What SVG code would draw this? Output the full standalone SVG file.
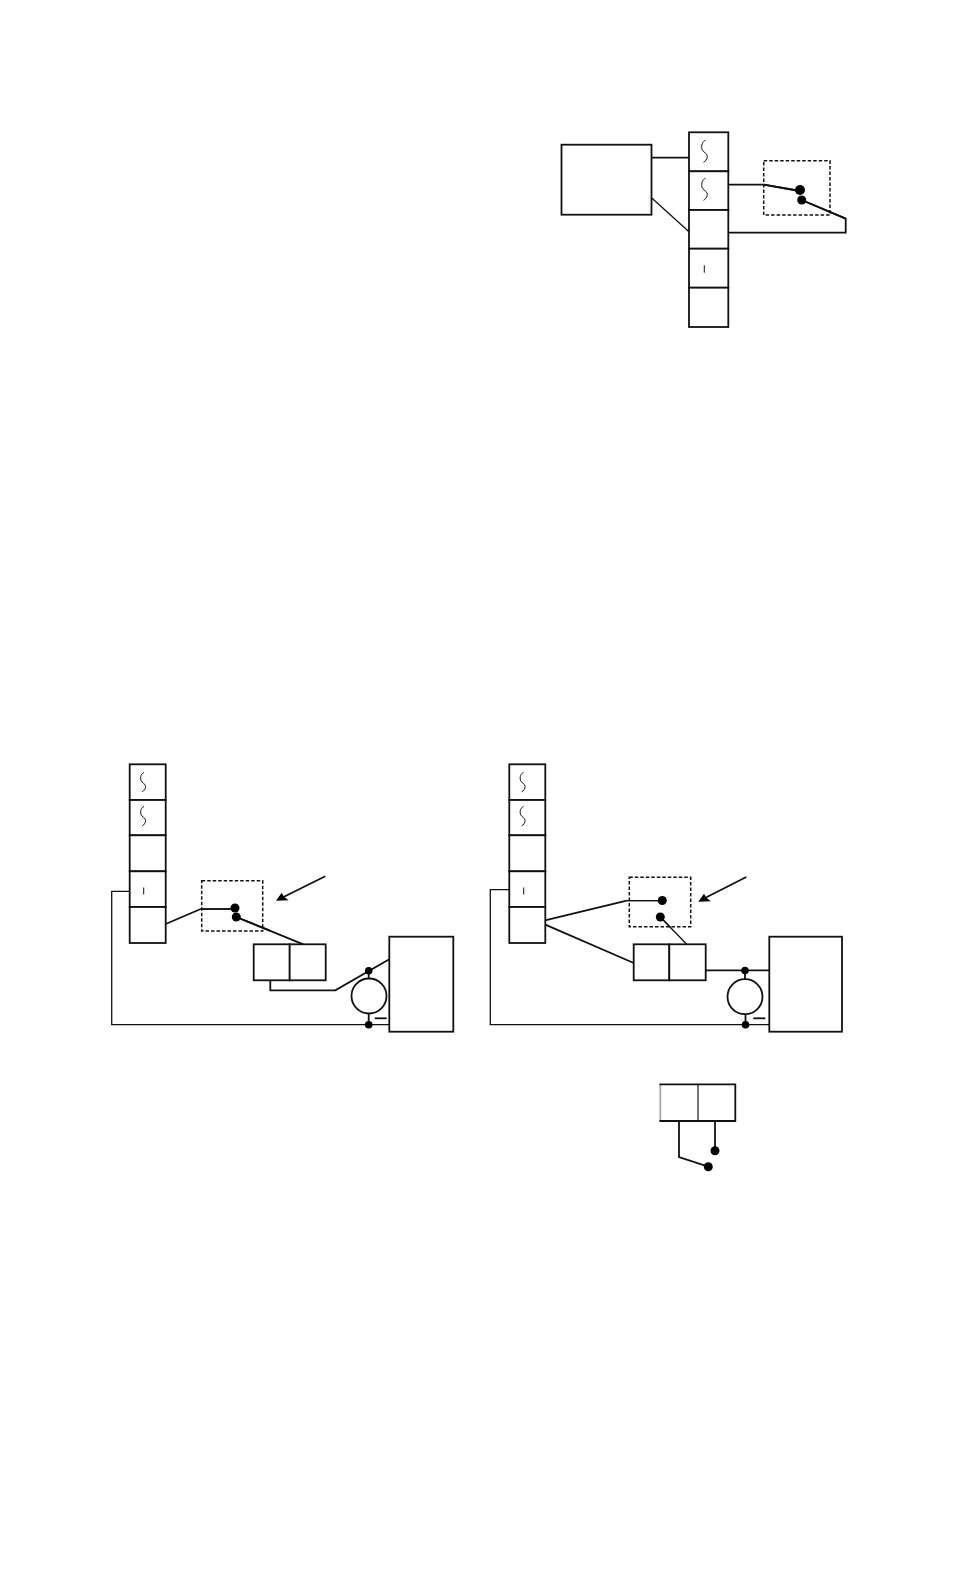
<svg xmlns="http://www.w3.org/2000/svg" width="954" height="1572" viewBox="0 0 954 1572">
<style>
.b{fill:#fff;stroke:#111;stroke-width:1.8}
.c{fill:none;stroke:#111;stroke-width:1.8;stroke-linejoin:miter}
.n{fill:none;stroke:#111;stroke-width:1.3}
.t{fill:none;stroke:#111;stroke-width:1}
.d{fill:none;stroke:#111;stroke-width:1.5;stroke-dasharray:3.5 2}
.p{fill:#000}
</style>
<defs>
<path id="sq" class="t" d="M0 0C-3 1-4.5 5-3.5 9C-2.5 12 2 13 1.8 16C1.6 19 0 21-2 22"/>
<path id="sm" class="t" d="M0 0C-2.6 .9-4 4.4-3 7.9C-2.2 10.5 1.8 11.4 1.6 14C1.4 16.7 0 18.5-1.8 19.3"/>
</defs>
<rect width="954" height="1572" fill="#fff"/>

<g id="connectors">
<path class="c" d="M651.5 157.7H689"/>
<path class="n" d="M651.5 197.7L689 231.7"/>
<path class="c" d="M728.3 184.7H763.7L800 191"/>
<path class="c" d="M801.7 200L845.7 218.7V232.7H728.3"/>
<path class="c" d="M165.7 924L200.7 909"/>
<path class="n" d="M200.7 909H234.7"/>
<path class="c" d="M236.3 917L303.3 944.3"/>
<path class="c" d="M270.3 980.3V990.3H335.3L389.3 959.3"/>
<path class="c" d="M368.7 970.7V979M368.7 1013.5V1024.7"/>
<path class="n" d="M389.3 1024.7H111.7V891.3H129.7"/>
<path class="c" d="M325.3 876.3L283 897.3"/>
<path class="p" d="M276 900.7L281.7 892.8L284 896.8L288.6 900.2Z"/>
<path class="c" d="M544 920.7L626.7 900.7"/>
<path class="n" d="M626.7 900.7H662.3"/>
<path class="n" d="M660.3 917L686.7 944.3"/>
<path class="c" d="M545.3 924.7L633.7 963"/>
<path class="c" d="M705.7 970.3H769.3"/>
<path class="c" d="M745 970.3V979M745.5 1013.5V1024.7"/>
<path class="n" d="M769.3 1024.7H490.3V889.7H509.3"/>
<path class="c" d="M746.3 877L705 898"/>
<path class="p" d="M698.3 901.7L704 893.8L706.3 897.8L710.9 901.2Z"/>
<path class="c" d="M679 1121V1157L708.3 1166.7"/>
<path class="c" d="M715 1121V1150.7"/>
</g>

<g id="top-box"><rect class="b" x="561.5" y="144.7" width="90" height="70"/></g>
<g id="top-stack">
<rect class="b" x="689" y="132.3" width="39.3" height="39"/>
<rect class="b" x="689" y="171.3" width="39.3" height="38.7"/>
<rect class="b" x="689" y="210" width="39.3" height="38.7"/>
<rect class="b" x="689" y="248.7" width="39.3" height="39"/>
<rect class="b" x="689" y="287.7" width="39.3" height="39.3"/>
<use href="#sq" x="705.5" y="140.3"/><use href="#sq" x="705.5" y="178.3"/>
<path class="t" d="M704.3 265.3V272.7"/>
</g>
<g id="top-switch">
<rect class="d" x="763.7" y="160.7" width="66.3" height="54.3"/>
<path class="c" d="M763.7 184.7L800 191M801.7 200L845.7 218.7"/>
<circle class="p" cx="800" cy="190" r="5"/><circle class="p" cx="801.7" cy="200" r="4.5"/>
</g>

<g id="left-stack">
<rect class="b" x="129.7" y="764.3" width="36" height="35.7"/>
<rect class="b" x="129.7" y="800" width="36" height="35.3"/>
<rect class="b" x="129.7" y="835.3" width="36" height="36"/>
<rect class="b" x="129.7" y="871.3" width="36" height="35.7"/>
<rect class="b" x="129.7" y="907" width="36" height="36"/>
<use href="#sm" x="144" y="772.5"/><use href="#sm" x="144" y="806.5"/>
<path class="t" d="M143.7 887.5V894.5"/>
</g>
<g id="left-switch">
<rect class="d" x="201.7" y="880.7" width="61" height="50.3"/>
<path class="n" d="M200.7 909H234.7"/><path class="c" d="M236.3 917L270 930.7"/>
<circle class="p" cx="235" cy="908" r="4.5"/><circle class="p" cx="236.3" cy="917" r="4.5"/>
</g>
<g id="left-relay">
<rect class="b" x="253.7" y="944.3" width="36" height="36"/>
<rect class="b" x="289.7" y="944.3" width="36" height="36"/>
</g>
<g id="left-meter">
<circle class="b" cx="369" cy="996" r="17.5"/>
<circle class="p" cx="368.7" cy="970.7" r="3.8"/><circle class="p" cx="368.7" cy="1024.7" r="3.8"/>
<path class="c" d="M374.7 1018.3H386.7"/>
</g>
<g id="left-box"><rect class="b" x="389.3" y="936.7" width="64" height="95"/></g>

<g id="right-stack">
<rect class="b" x="509.3" y="764.3" width="36" height="35.7"/>
<rect class="b" x="509.3" y="800" width="36" height="35.3"/>
<rect class="b" x="509.3" y="835.3" width="36" height="36"/>
<rect class="b" x="509.3" y="871.3" width="36" height="35.7"/>
<rect class="b" x="509.3" y="907" width="36" height="36"/>
<use href="#sm" x="523.5" y="772.5"/><use href="#sm" x="523.5" y="806.5"/>
<path class="t" d="M523.7 887.5V894.5"/>
</g>
<g id="right-switch">
<rect class="d" x="629.3" y="877.3" width="61.4" height="49.4"/>
<path class="n" d="M626.7 900.7H662.3M660.3 917L671 928"/>
<circle class="p" cx="662.3" cy="900.5" r="4.5"/><circle class="p" cx="660.3" cy="917" r="4.5"/>
</g>
<g id="right-relay">
<rect class="b" x="633.7" y="944.3" width="35.6" height="36"/>
<rect class="b" x="669.3" y="944.3" width="36.4" height="36"/>
</g>
<g id="right-meter">
<circle class="b" cx="745" cy="996.7" r="17.5"/>
<circle class="p" cx="745" cy="970.5" r="3.8"/><circle class="p" cx="745.5" cy="1024.7" r="3.8"/>
<path class="c" d="M753.3 1018.3H765.3"/>
</g>
<g id="right-box"><rect class="b" x="769.3" y="936.7" width="72.7" height="95"/></g>

<g id="bottom-relay">
<rect x="660.3" y="1084.3" width="37.7" height="36.7" fill="#fff"/>
<rect x="698" y="1084.3" width="37.3" height="36.7" fill="#fff"/>
<path d="M660.3 1084.3V1121" stroke="#aaa" stroke-width="1.8"/>
<path d="M698 1084.3V1121" stroke="#666" stroke-width="1.8"/>
<path d="M659.4 1084.3H735.3V1121H659.4" fill="none" stroke="#111" stroke-width="1.8"/>
</g>
<g id="bottom-contacts">
<circle class="p" cx="708.3" cy="1166.7" r="4.5"/><circle class="p" cx="715" cy="1150.7" r="4.5"/>
</g>
</svg>
